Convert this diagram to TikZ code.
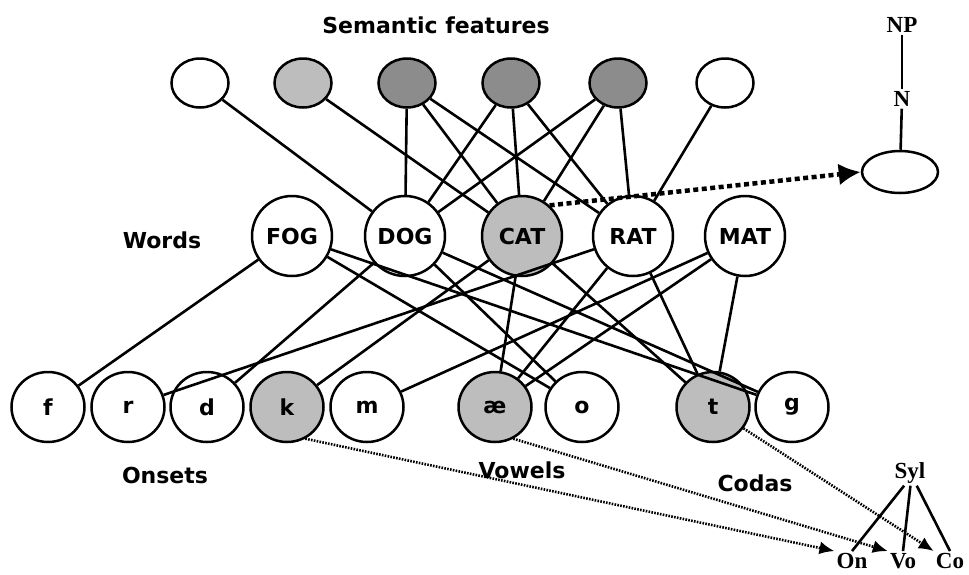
\documentclass[tikz,border=0pt]{standalone}
\usepackage{fontspec}
\setmainfont{DejaVu Sans}
\newfontfamily\treefont{Liberation Serif}
\usetikzlibrary{shapes.geometric,arrows.meta}

\definecolor{lightfill}{gray}{0.74}
\definecolor{darkfill}{gray}{0.55}

\tikzset{
  feature/.style={ellipse,draw,line width=2.5pt,minimum width=57pt,minimum height=49pt,inner sep=0pt},
  word/.style={circle,draw,line width=2.5pt,minimum size=80pt,inner sep=0pt,font=\fontsize{22}{26}\selectfont\bfseries},
  phone/.style={ellipse,draw,line width=2.5pt,minimum width=73pt,minimum height=70pt,inner sep=0pt,font=\fontsize{22}{26}\selectfont\bfseries},
  tag/.style={font=\fontsize{22}{26}\selectfont\bfseries},
  treetext/.style={font=\treefont\fontsize{23}{26}\selectfont\bfseries,inner sep=2pt},
  link/.style={line width=2.6pt},
  copyline/.style={line width=2.6pt,dash pattern=on 1.6pt off 1.3pt,-{Latex[length=15pt,width=13pt]}},
  bigcopy/.style={line width=4.5pt,dash pattern=on 5pt off 3.5pt,-{Latex[length=22pt,width=22pt]}}
}

\begin{document}
\begin{tikzpicture}[x=1pt,y=-1pt]
\useasboundingbox (0,0) rectangle (969,574);

\node[tag] (semlabel) at (436,25) {Semantic features};
\node[tag] (wordlabel) at (162,240) {Words};
\node[tag] (onsetlabel) at (165,475) {Onsets};
\node[tag] (vowellabel) at (522,470) {Vowels};
\node[tag] (codalabel) at (755,483) {Codas};

\node[feature] (F1) at (200,83) {};
\node[feature,fill=lightfill] (F2) at (303,83) {};
\node[feature,fill=darkfill] (F3) at (407,83) {};
\node[feature,fill=darkfill] (F4) at (511,83) {};
\node[feature,fill=darkfill] (F5) at (618,83) {};
\node[feature] (F6) at (725,83) {};

\node[word] (FOG) at (292,236) {FOG};
\node[word] (DOG) at (405,236) {DOG};
\node[word,fill=lightfill] (CAT) at (522,236) {CAT};
\node[word] (RAT) at (633,236) {RAT};
\node[word] (MAT) at (745,236) {MAT};

\node[phone] (f) at (48,407) {f};
\node[phone] (r) at (128,407) {r};
\node[phone] (d) at (207,407) {d};
\node[phone,fill=lightfill] (k) at (287,407) {k};
\node[phone] (m) at (367,407) {m};
\node[phone,fill=lightfill] (ae) at (495,407) {æ};
\node[phone] (o) at (582,407) {o};
\node[phone,fill=lightfill] (t) at (713,407) {t};
\node[phone] (g) at (792,407) {g};

\draw[link] (F1) -- (DOG);
\draw[link] (F2) -- (CAT);
\draw[link] (F3) -- (DOG);
\draw[link] (F3) -- (CAT);
\draw[link] (F3) -- (RAT);
\draw[link] (F4) -- (DOG);
\draw[link] (F4) -- (CAT);
\draw[link] (F4) -- (RAT);
\draw[link] (F5) -- (DOG);
\draw[link] (F5) -- (CAT);
\draw[link] (F5) -- (RAT);
\draw[link] (F6) -- (RAT);

\draw[link] (FOG) -- (f);
\draw[link] (FOG) -- (o);
\draw[link] (FOG) -- (g);
\draw[link] (DOG) -- (d);
\draw[link] (DOG) -- (o);
\draw[link] (DOG) -- (g);
\draw[link] (CAT) -- (k);
\draw[link] (CAT) -- (ae);
\draw[link] (CAT) -- (t);
\draw[link] (RAT) -- (r);
\draw[link] (RAT) -- (ae);
\draw[link] (RAT) -- (t);
\draw[link] (MAT) -- (m);
\draw[link] (MAT) -- (ae);
\draw[link] (MAT) -- (t);

\node[treetext] (NP) at (902,25) {NP};
\node[treetext] (N) at (902,99) {N};
\node[ellipse,draw,line width=2.5pt,minimum width=76pt,minimum height=42pt] (Nslot) at (900,172) {};
\draw[link] (NP) -- (N);
\draw[link] (N) -- (Nslot);
\draw[bigcopy] (CAT.48) -- (Nslot.west);

\node[treetext] (Syl) at (910,473) {Syl};
\node[treetext] (On) at (852,561) {On};
\node[treetext] (Vo) at (903,561) {Vo};
\node[treetext] (Co) at (950,561) {Co};
\draw[link] (Syl.-115) -- (On.north);
\draw[link] (Syl.-88) -- (Vo.north);
\draw[link] (Syl.-62) -- (Co.north);

\draw[copyline] (k.-60) -- (On.north west);
\draw[copyline] (ae.-60) -- (Vo.north west);
\draw[copyline] (t.-35) -- (Co.north west);
\end{tikzpicture}
\end{document}
